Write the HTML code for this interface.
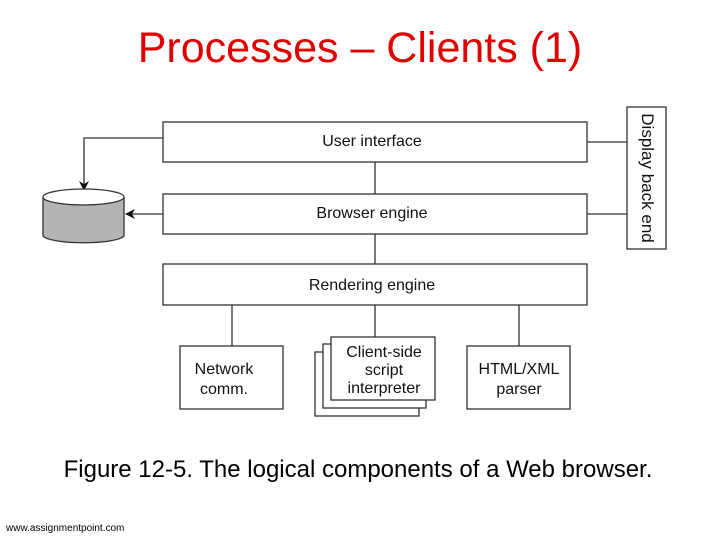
<!DOCTYPE html>
<html><head><style>
body{margin:0;width:720px;height:540px;background:#fff;position:relative;overflow:hidden;font-family:"Liberation Sans",sans-serif}
.t{position:absolute;left:0;width:720px;text-align:center;white-space:nowrap}
</style></head><body>
<div class="t" style="top:24px;font-size:43px;color:#e00000;left:0px">Processes – Clients (1)</div>
<svg width="720" height="540" style="position:absolute;left:0;top:0" font-family="Liberation Sans, sans-serif" font-size="16" fill="#111">
<defs><marker id="a" markerWidth="10" markerHeight="10" refX="9" refY="5" orient="auto" markerUnits="userSpaceOnUse"><path d="M0,0 L10,5 L0,10 L3,5z" fill="#111"/></marker></defs>
<g stroke="#333" stroke-width="1.3" fill="none">
<line x1="375" y1="162" x2="375" y2="194"/>
<line x1="375" y1="234" x2="375" y2="264"/>
<line x1="375" y1="305" x2="375" y2="337"/>
<line x1="232" y1="305" x2="232" y2="346"/>
<line x1="519" y1="305" x2="519" y2="346"/>
<line x1="587" y1="142" x2="627" y2="142"/>
<line x1="587" y1="214" x2="627" y2="214"/>
<polyline points="163,138 84,138 84,190" marker-end="url(#a)"/>
<line x1="163" y1="214" x2="126" y2="214" marker-end="url(#a)"/>
</g>
<g stroke="#333" stroke-width="1.3" fill="#fff">
<rect x="163" y="122" width="424" height="40"/>
<rect x="163" y="194" width="424" height="40"/>
<rect x="163" y="264" width="424" height="41"/>
<rect x="627" y="107" width="39" height="142"/>
<rect x="180" y="346" width="103" height="63"/>
<rect x="467" y="346" width="103" height="63"/>
<rect x="315" y="352" width="104" height="64"/>
<rect x="323" y="344" width="103" height="64"/>
<rect x="331" y="337" width="104" height="63"/>
<path d="M43,197 L43,236 A41,8 0 0 0 124,236 L124,197" fill="#b4b4b4"/>
<ellipse cx="83.5" cy="197" rx="40.5" ry="8"/>
</g>
<g text-anchor="middle">
<text x="372" y="146">User interface</text>
<text x="372" y="218">Browser engine</text>
<text x="372" y="290">Rendering engine</text>
<text x="224" y="374">Network</text>
<text x="224" y="394">comm.</text>
<text x="384" y="357">Client-side</text>
<text x="384" y="375">script</text>
<text x="384" y="393">interpreter</text>
<text x="519" y="374">HTML/XML</text>
<text x="519" y="394">parser</text>
<text transform="translate(642,178) rotate(90)" font-size="17">Display back end</text>
</g>
</svg>
<div class="t" style="top:456px;font-size:24px;color:#000;left:-2px">Figure 12-5. The logical components of a Web browser.</div>
<div style="position:absolute;left:6px;top:523px;font-size:10px;color:#000">www.assignmentpoint.com</div>
</body></html>
